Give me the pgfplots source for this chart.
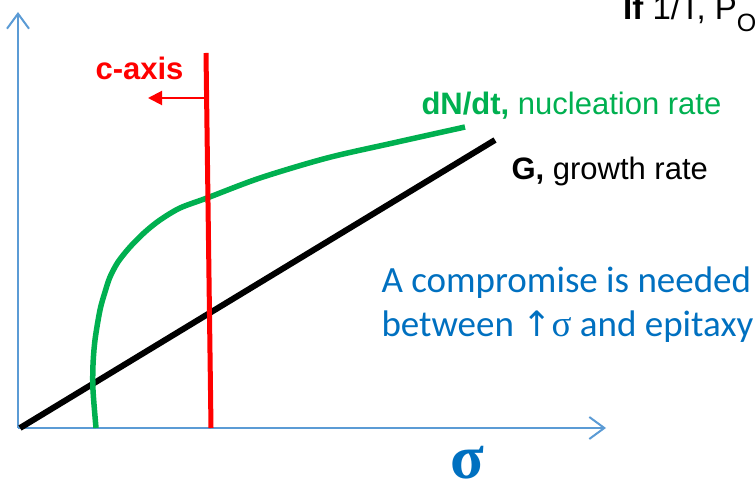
\documentclass[border=0pt]{standalone}
\usepackage{fontspec}
\setmainfont{Liberation Sans}
\newfontfamily\calfont{Carlito}
\newfontfamily\dvfont{DejaVu Sans}
\newfontfamily\symfont{Liberation Serif}
\usepackage{pgfplots}
\pgfplotsset{compat=1.18}
\usetikzlibrary{arrows.meta}
\definecolor{axblue}{RGB}{91,155,213}
\definecolor{txblue}{RGB}{0,112,192}
\definecolor{nucgreen}{RGB}{0,176,80}
\begin{document}
\begin{tikzpicture}
\path[use as bounding box,clip] (0,0) rectangle (755bp,485bp);
\begin{axis}[
 scale only axis,width=755bp,height=485bp,
 xmin=0,xmax=755,ymin=0,ymax=485,
 hide axis,clip=false]
 % axes
 \addplot[axblue,line width=2bp,-{Straight Barb[length=15bp,width=22bp,line width=2bp]}]
  coordinates {(18,57) (18,473)};
 \addplot[axblue,line width=2bp,-{Straight Barb[length=15bp,width=22bp,line width=2bp]}]
  coordinates {(18,57) (606,57)};
 % growth rate
 \addplot[black,line width=6bp] coordinates {(20,57) (495,345)};
 % nucleation rate
 \addplot[nucgreen,line width=5.5bp,smooth] coordinates {
  (96,57) (93,95) (93,120) (95,145) (100,175) (105,193) (110,208)
  (118,223) (130,238) (145,253) (160,265) (180,277) (207,287)
  (260,307) (327,327) (393,342) (465,358)};
 % c-axis
 \addplot[red,line width=5bp] coordinates {(211,57) (206,432)};
 \addplot[red,line width=2bp,-{Triangle[length=14bp,width=14bp]}]
  coordinates {(206,387) (148,387)};
 \node[red,anchor=base west,font=\fontsize{31bp}{36bp}\selectfont\bfseries]
  at (axis cs:92,405) {c-axis};
 \node[anchor=base west,font=\fontsize{33bp}{38bp}\selectfont,inner sep=0pt]
  at (axis cs:623,465) {\textbf{If} 1/T, P\raisebox{-12bp}{\fontsize{25bp}{28bp}\selectfont O}};
 \node[nucgreen,anchor=base west,font=\fontsize{31bp}{36bp}\selectfont]
  at (axis cs:418,370) {\textbf{dN/dt,} nucleation rate};
 \node[black,anchor=base west,font=\fontsize{31bp}{36bp}\selectfont]
  at (axis cs:508,305) {\textbf{G,} growth rate};
 \node[txblue,anchor=base west,font=\fontsize{37bp}{44bp}\selectfont\calfont]
  at (axis cs:378,192) {A compromise is needed};
 \node[txblue,anchor=base west,font=\fontsize{37bp}{44bp}\selectfont\calfont]
  at (axis cs:378,148) {between {\dvfont\fontsize{35bp}{40bp}\selectfont ↑}{\symfont σ} and epitaxy};
 \node[txblue,anchor=base,font=\fontsize{62bp}{70bp}\selectfont\symfont\bfseries]
  at (axis cs:467,7) {σ};
\end{axis}
\end{tikzpicture}
\end{document}
